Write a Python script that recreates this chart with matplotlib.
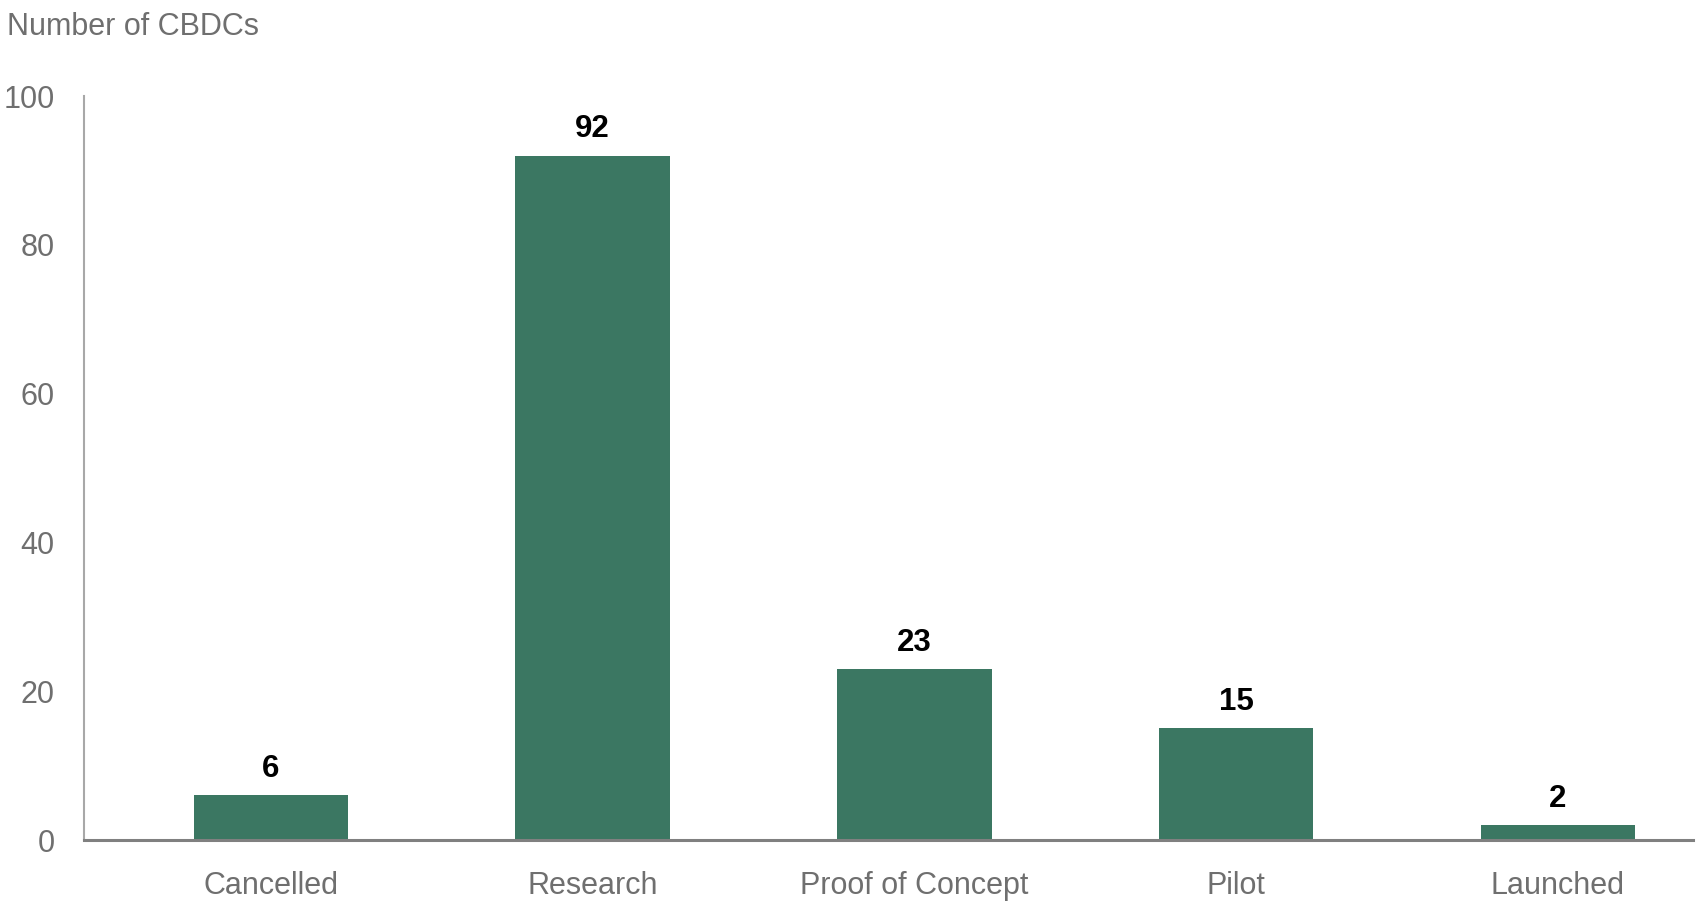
import matplotlib.pyplot as plt

# データ
categories = ['Cancelled', 'Research', 'Proof of Concept', 'Pilot', 'Launched']
counts = [6, 92, 23, 15, 2]
y_ticks = [0, 20, 40, 60, 80, 100]

plt.rcParams['font.family'] = ['Liberation Sans', 'DejaVu Sans']

bar_color = '#3b7762'
grey = '#6f6f6f'

fig = plt.figure(figsize=(17, 9.05), dpi=100)
ax = fig.add_axes([84 / 1700, 65 / 905, 1609 / 1700, 744 / 905])

x = range(len(categories))
bars = ax.bar(x, counts, width=0.48, color=bar_color, zorder=2)

# 値ラベル
for xi, v in zip(x, counts):
    ax.annotate(str(v), (xi, v), xytext=(0, 8), textcoords='offset points',
                ha='center', va='bottom', fontsize=22.5, fontweight='bold', color='black')

ax.set_xlim(-0.581, 4.42)
ax.set_ylim(0, 100)
ax.set_yticks(y_ticks)
ax.set_xticks(list(x))
ax.set_xticklabels(categories)

ax.tick_params(axis='both', length=0, labelsize=22, labelcolor=grey)
ax.tick_params(axis='y', pad=21)
ax.tick_params(axis='x', pad=22)

for s in ['top', 'right']:
    ax.spines[s].set_visible(False)
ax.spines['left'].set_color('#a8a8a8')
ax.spines['left'].set_linewidth(1.5)
ax.spines['bottom'].set_color('#808080')
ax.spines['bottom'].set_linewidth(2.2)
ax.spines['bottom'].set_zorder(3)

fig.text(7 / 1700, 1 - 27 / 905, 'Number of CBDCs', ha='left', va='center',
         fontsize=22, color=grey)

fig.savefig('out.png', dpi=100)
